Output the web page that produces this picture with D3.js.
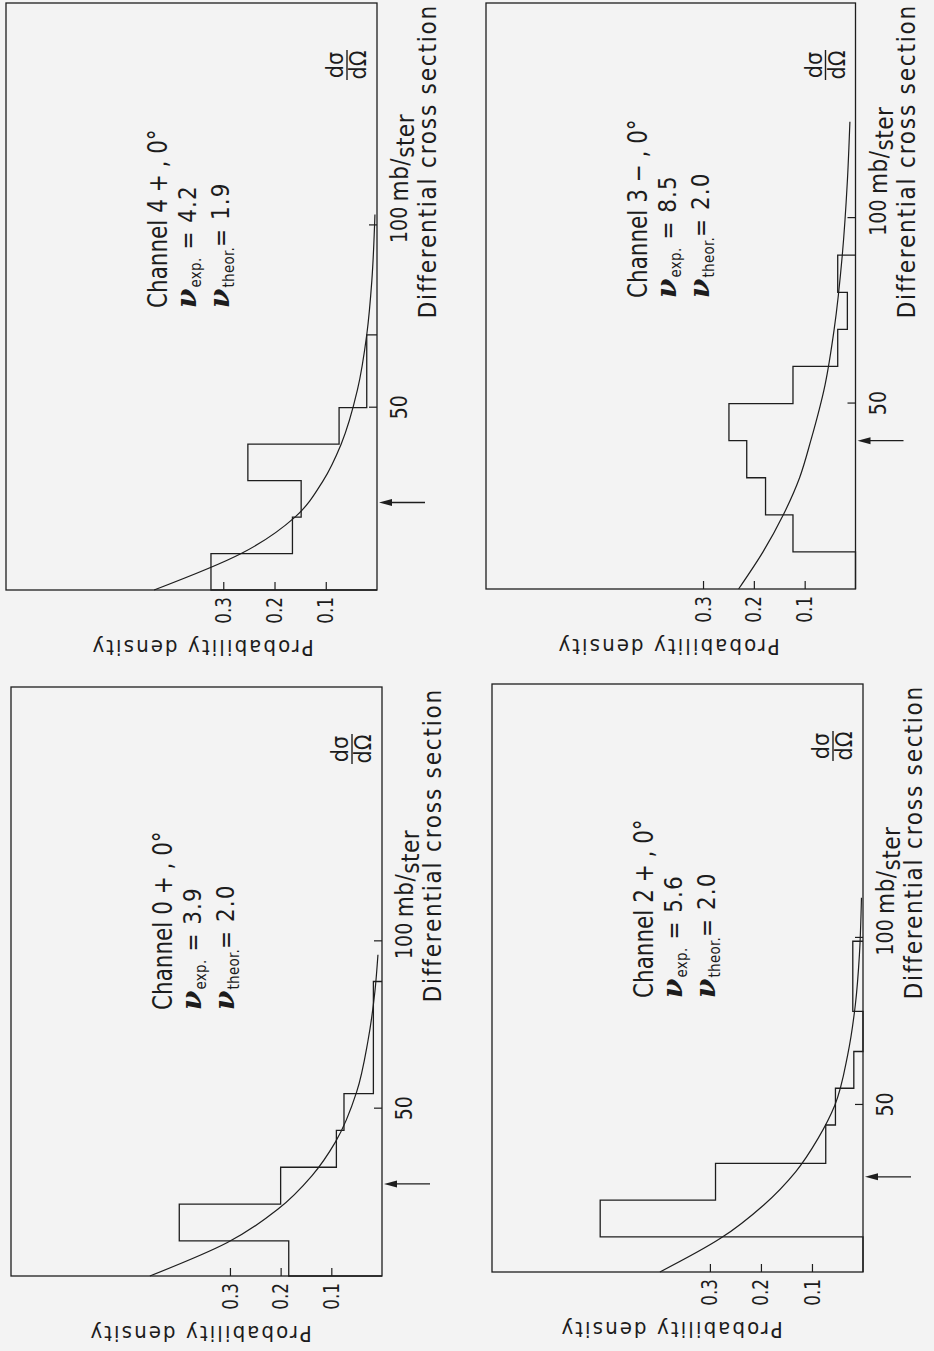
<!DOCTYPE html>
<html>
<head>
<meta charset="utf-8">
<script src="https://cdn.jsdelivr.net/npm/d3@7"></script>
<style>
  html, body { margin: 0; padding: 0; background: #f3f3f3; }
  svg { display: block; }
  text { fill: #1c1c1c; font-family: "DejaVu Sans Condensed", "DejaVu Sans", sans-serif; }
</style>
</head>
<body>
<svg id="fig" width="934" height="1351"></svg>
<script>
// panel order: top-left, top-right, bottom-left, bottom-right
const channels = ["Channel 4 + , 0°", "Channel 3 − , 0°", "Channel 0 + , 0°", "Channel 2 + , 0°"];
const nuExp = ["4.2", "8.5", "3.9", "5.6"];
const nuTheor = ["1.9", "2.0", "2.0", "2.0"];
const probTicks = [0.1, 0.2, 0.3];
const sectionTicks = [50, 100];

// histogram bin edges (mb/ster) and probability densities
const edges4p = [0, 10, 20, 30, 40, 50, 70];
const dens4p = [0.324, 0.165, 0.148, 0.252, 0.074, 0.02];
const edges3m = [0, 10, 20, 30, 40, 50, 60, 70, 80, 90];
const dens3m = [0, 0.123, 0.177, 0.214, 0.249, 0.123, 0.035, 0.016, 0.035];
const edges0p = [0, 10.5, 21.5, 32.5, 43.5, 54.5, 88];
const dens0p = [0.184, 0.40, 0.20, 0.09, 0.075, 0.017];
const edges2p = [0, 10.5, 21.5, 32.5, 44, 55, 66, 78, 99];
const dens2p = [0, 0.515, 0.289, 0.073, 0.054, 0.018, 0, 0.02];

// theoretical curves: [cross section, density]
const curve4p = [[0, 0.435], [10, 0.265], [20, 0.16], [30, 0.105], [40, 0.07], [55, 0.038], [70, 0.02], [85, 0.01], [103, 0.004]];
const curve3m = [[0, 0.23], [10, 0.182], [20, 0.142], [30, 0.11], [40, 0.088], [55, 0.06], [70, 0.042], [90, 0.026], [110, 0.016], [126, 0.011]];
const curve0p = [[0, 0.458], [10, 0.305], [20, 0.205], [30, 0.138], [40, 0.092], [55, 0.05], [70, 0.028], [85, 0.014], [96, 0.008]];
const curve2p = [[0, 0.398], [10, 0.28], [20, 0.195], [30, 0.132], [40, 0.088], [50, 0.055], [65, 0.03], [80, 0.015], [95, 0.007], [112, 0.003]];

// arrow marks on the cross-section axis
const arrowAt = [24, 40, 27.5, 28.5];

const edges = [edges4p, edges3m, edges0p, edges2p];
const dens = [dens4p, dens3m, dens0p, dens2p];
const curves = [curve4p, curve3m, curve0p, curve2p];

// layout of the (rotated) panels on the page
const boxes = [
  { x0: 6, x1: 377, y0: 3, y1: 590 },
  { x0: 486, x1: 855.5, y0: 3, y1: 589 },
  { x0: 11, x1: 382, y0: 687, y1: 1276 },
  { x0: 492, x1: 863, y0: 684, y1: 1272 }
];
const xMax = [161, 158, 176, 176];
const yMax = [0.724, 0.727, 0.732, 0.727];
const titleX = [282, 291, 266, 274];
const densLabelY = [196, 182, 189, 179];

const ink = '#1e1e1e';
const svg = d3.select('#fig');

function squeeze(sel, sx) {
  sel.each(function () {
    const t = d3.select(this);
    const tx = +t.attr('x') || 0;
    const ty = +t.attr('y') || 0;
    t.attr('x', null).attr('y', null)
      .attr('transform', `translate(${tx},${ty}) scale(${sx},1)`);
  });
}

function drawPanel(i) {
  const b = boxes[i];
  const W = b.y1 - b.y0;
  const H = b.x1 - b.x0;
  const x = d3.scaleLinear().domain([0, xMax[i]]).range([0, W]);
  const y = d3.scaleLinear().domain([0, yMax[i]]).range([H, 0]);

  // draw in the figure's own orientation, then turn it a quarter turn
  const g = svg.append('g').attr('transform', `translate(${b.x0},${b.y1}) rotate(-90)`);

  g.append('rect')
    .attr('width', W).attr('height', H)
    .attr('fill', 'none').attr('stroke', ink).attr('stroke-width', 1.3);

  // probability axis
  const ay = g.append('g')
    .call(d3.axisLeft(y).tickValues(probTicks).tickSize(-8).tickPadding(7).tickFormat(d3.format('.1f')));
  ay.select('.domain').remove();
  ay.selectAll('.tick line').attr('stroke', ink).attr('stroke-width', 1.2);
  ay.selectAll('.tick text').attr('font-size', 22).attr('font-family', null).attr('fill', ink);
  squeeze(ay.selectAll('.tick text'), 0.85);

  // cross-section axis
  const ax = g.append('g').attr('transform', `translate(0,${H})`)
    .call(d3.axisBottom(x).tickValues(sectionTicks).tickSize(-8).tickPadding(14));
  ax.select('.domain').remove();
  ax.selectAll('.tick line').attr('stroke', ink).attr('stroke-width', 1.2);
  ax.selectAll('.tick text').attr('font-size', 23).attr('font-family', null).attr('fill', ink);
  squeeze(ax.selectAll('.tick text'), 0.92);

  // unit after the 100 tick
  const unit = g.append('text')
    .attr('transform', `translate(${x(100) + 24},${H + 31})`)
    .attr('font-size', 24).attr('letter-spacing', 0.5);
  unit.append('tspan').text('mb/');
  unit.append('tspan').attr('dy', 6).text('ster');

  g.append('text')
    .attr('transform', `translate(${W - 1},${H + 59})`)
    .attr('text-anchor', 'end')
    .attr('font-family', 'DejaVu Sans')
    .attr('font-size', 24)
    .attr('letter-spacing', 1.8)
    .text('Differential cross section');

  g.append('text')
    .attr('transform', `translate(-50,${densLabelY[i]}) rotate(-90)`)
    .attr('text-anchor', 'middle')
    .attr('font-family', 'DejaVu Sans')
    .attr('font-size', 22)
    .attr('letter-spacing', 2.1)
    .text('Probability density');

  // dσ/dΩ
  const fx = x(xMax[i]) - 62;
  const fy = H - 30;
  g.append('text').attr('x', fx).attr('y', fy - 4).attr('text-anchor', 'middle')
    .attr('font-size', 23).text('dσ');
  g.append('line').attr('x1', fx - 15).attr('x2', fx + 15).attr('y1', fy).attr('y2', fy)
    .attr('stroke', ink).attr('stroke-width', 1.4);
  g.append('text').attr('x', fx).attr('y', fy + 19).attr('text-anchor', 'middle')
    .attr('font-size', 23).text('dΩ');

  // channel annotation
  const tx = titleX[i];
  g.append('text').attr('transform', `translate(${tx},161) scale(0.92,1)`)
    .attr('font-size', 26).text(channels[i]);
  [[nuExp[i], 'exp.', 190], [nuTheor[i], 'theor.', 223]].forEach(([v, sub, by]) => {
    const t = g.append('text').attr('transform', `translate(${tx},${by})`)
      .attr('font-size', 24).attr('letter-spacing', 1);
    t.append('tspan').attr('font-family', 'DejaVu Serif').attr('font-style', 'italic')
      .attr('font-weight', 'bold').attr('font-size', 28).text('ν');
    t.append('tspan').attr('font-size', 15).attr('letter-spacing', 0.3).attr('dy', 5).text(sub);
    t.append('tspan').attr('dy', -5).text(sub === 'exp.' ? '\u00a0=\u00a0' + v : '=\u00a0' + v);
  });

  // histogram
  const e = edges[i], d = dens[i];
  const pts = [[e[0], 0]];
  d.forEach((v, k) => { pts.push([e[k], v]); pts.push([e[k + 1], v]); });
  pts.push([e[e.length - 1], 0]);
  g.append('path')
    .attr('d', d3.line().x(p => x(p[0])).y(p => y(p[1]))(pts))
    .attr('fill', 'none').attr('stroke', ink).attr('stroke-width', 1.3);

  // theoretical curve
  g.append('path')
    .attr('d', d3.line().x(p => x(p[0])).y(p => y(p[1])).curve(d3.curveMonotoneX)(curves[i]))
    .attr('fill', 'none').attr('stroke', ink).attr('stroke-width', 1.2);

  // arrow below the axis
  const xa = x(arrowAt[i]);
  g.append('line').attr('x1', xa).attr('x2', xa).attr('y1', H + 14).attr('y2', H + 48)
    .attr('stroke', ink).attr('stroke-width', 1.3);
  g.append('path')
    .attr('d', `M${xa},${H + 2}L${xa - 3.5},${H + 15}L${xa + 3.5},${H + 15}Z`)
    .attr('fill', ink);
}

[0, 1, 2, 3].forEach(drawPanel);
</script>
</body>
</html>
